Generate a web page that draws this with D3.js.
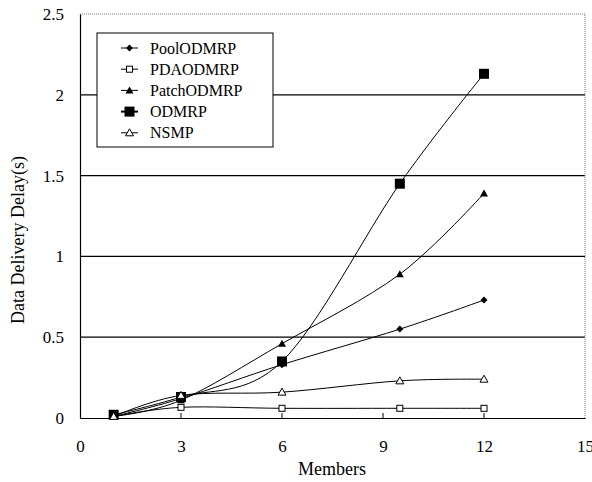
<!DOCTYPE html>
<html><head><meta charset="utf-8">
<script src="https://cdn.jsdelivr.net/npm/d3@7"></script>
<style>body{margin:0;background:#fff}svg text{font-family:"Liberation Serif","Times New Roman",serif;fill:#000}</style>
</head><body><svg id="c" width="592" height="482"></svg>
<script>
const members = [1, 3, 6, 9.5, 12];
const seriesNames = ["PoolODMRP", "PDAODMRP", "PatchODMRP", "ODMRP", "NSMP"];
const poolODMRP = [0.01, 0.12, 0.33, 0.55, 0.73];
const pdaODMRP = [0.01, 0.066, 0.06, 0.06, 0.06];
const patchODMRP = [0.01, 0.11, 0.46, 0.89, 1.39];
const odmrp = [0.02, 0.13, 0.35, 1.45, 2.13];
const nsmp = [0.01, 0.14, 0.16, 0.23, 0.24];
const xTicks = [0, 3, 6, 9, 12, 15];
const yTicks = [0, 0.5, 1, 1.5, 2, 2.5];
const markers = ["diamond", "openSquare", "triangle", "square", "openTriangle"];

const svg = d3.select("#c");
const x = d3.scaleLinear().domain([0, 15]).range([80, 585]);
const y = d3.scaleLinear().domain([0, 2.5]).range([418, 14]);

// gridlines
svg.append("g").selectAll("line").data(yTicks.filter(v => v > 0 && v < 2.5)).join("line")
  .attr("x1", x(0)).attr("x2", x(15)).attr("y1", d => y(d)).attr("y2", d => y(d))
  .attr("stroke", "#000").attr("stroke-width", 1.2);
// top/right border dotted
svg.append("path").attr("d", `M${x(0)},${y(2.5)}H${x(15)}V${y(0)}`)
  .attr("fill", "none").attr("stroke", "#777").attr("stroke-width", 1).attr("stroke-dasharray", "1,1");

// axes
const xAxis = d3.axisBottom(x).tickValues(xTicks).tickSize(0).tickPadding(22).tickFormat(d3.format("d"));
const gx = svg.append("g").attr("transform", `translate(0,${y(0)})`).call(xAxis);
gx.select(".domain").attr("stroke", "#000").attr("stroke-width", 1.2);
gx.selectAll("text").attr("font-size", 17);
gx.selectAll(".tk").data(xTicks.filter(v => v > 0 && v < 15)).join("line").attr("class", "tk")
  .attr("x1", d => x(d)).attr("x2", d => x(d)).attr("y1", 0).attr("y2", -5).attr("stroke", "#000");

const yAxis = d3.axisLeft(y).tickValues(yTicks).tickSize(0).tickPadding(16).tickFormat(d => d);
const gy = svg.append("g").attr("transform", `translate(${x(0)},0)`).call(yAxis);
gy.select(".domain").attr("stroke", "#000").attr("stroke-width", 1.2);
gy.selectAll("text").attr("font-size", 17);

svg.append("text").attr("x", 332).attr("y", 475).attr("text-anchor", "middle").attr("font-size", 18).text("Members");
svg.append("text").attr("transform", "translate(24,240) rotate(-90)").attr("text-anchor", "middle").attr("font-size", 18).text("Data Delivery Delay(s)");

const allSeries = [poolODMRP, pdaODMRP, patchODMRP, odmrp, nsmp];
const line = d3.line().x(d => x(d[0])).y(d => y(d[1])).curve(d3.curveCardinal.tension(0));

function drawMarker(g, type, cx, cy) {
  if (type === "diamond") {
    g.append("path").attr("d", `M${cx},${cy-3.5}L${cx+3.5},${cy}L${cx},${cy+3.5}L${cx-3.5},${cy}Z`).attr("fill", "#000");
  } else if (type === "openSquare") {
    g.append("rect").attr("x", cx-3).attr("y", cy-3).attr("width", 6).attr("height", 6).attr("fill", "#fff").attr("stroke", "#000").attr("stroke-width", 1);
  } else if (type === "triangle") {
    g.append("path").attr("d", `M${cx},${cy-4}L${cx+4},${cy+3}L${cx-4},${cy+3}Z`).attr("fill", "#000");
  } else if (type === "square") {
    g.append("rect").attr("x", cx-5).attr("y", cy-5).attr("width", 10).attr("height", 10).attr("fill", "#000");
  } else if (type === "openTriangle") {
    g.append("path").attr("d", `M${cx},${cy-4}L${cx+4},${cy+3}L${cx-4},${cy+3}Z`).attr("fill", "#fff").attr("stroke", "#000").attr("stroke-width", 1);
  }
}

allSeries.forEach((vals, i) => {
  const pts = members.map((m, j) => [m, vals[j]]);
  const g = svg.append("g");
  g.append("path").attr("d", line(pts)).attr("fill", "none").attr("stroke", "#000").attr("stroke-width", 1);
  pts.forEach(p => drawMarker(g, markers[i], x(p[0]), y(p[1])));
});

// legend
const lg = svg.append("g");
lg.append("rect").attr("x", 97).attr("y", 33).attr("width", 176).attr("height", 114).attr("fill", "#fff").attr("stroke", "#000").attr("stroke-width", 1);
seriesNames.forEach((n, i) => {
  const ly = 48 + i * 21.2;
  lg.append("line").attr("x1", 121).attr("x2", 138).attr("y1", ly).attr("y2", ly).attr("stroke", "#000").attr("stroke-width", i === 3 ? 2 : 1);
  drawMarker(lg, markers[i], 129.5, ly);
  lg.append("text").attr("x", 150).attr("y", ly + 5.5).attr("font-size", 16).text(n);
});
</script></body></html>
